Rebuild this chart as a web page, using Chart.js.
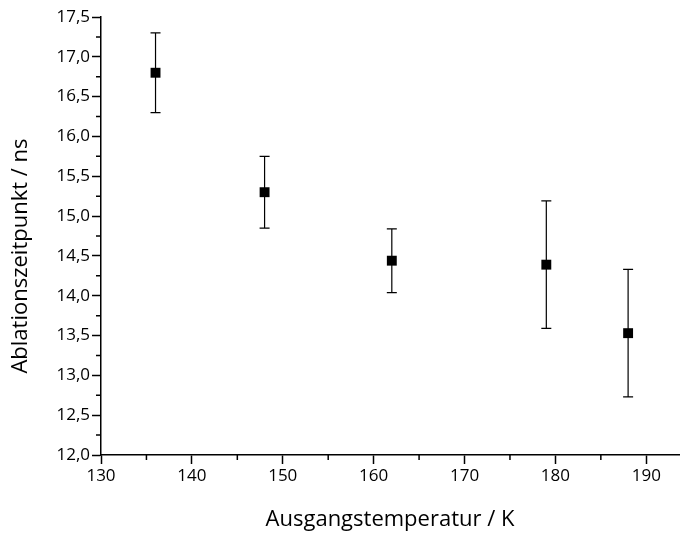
<!DOCTYPE html>
<html>
<head>
<meta charset="utf-8">
<script src="https://cdn.jsdelivr.net/npm/chart.js@4"></script>
<style>
  html, body { margin: 0; padding: 0; background: #fff; }
  #wrap { width: 686px; height: 537px; }
</style>
</head>
<body>
<div id="wrap"><canvas id="chart" width="686" height="537"></canvas></div>
<script>
// Messwerte
const temperaturen = [136, 148, 162, 179, 188];
const zeitpunkte = [16.8, 15.3, 14.44, 14.39, 13.53];
const fehler = [0.5, 0.45, 0.4, 0.8, 0.8];

const FONT = '"Open Sans", sans-serif';

// Fehlerbalken unter die Punkte zeichnen
const errorBars = {
  id: 'errorBars',
  beforeDatasetsDraw(chart) {
    const { ctx, scales: { x, y } } = chart;
    ctx.save();
    ctx.strokeStyle = '#000';
    ctx.lineWidth = 1.2;
    temperaturen.forEach((t, i) => {
      const px = x.getPixelForValue(t);
      const top = y.getPixelForValue(zeitpunkte[i] + fehler[i]);
      const bot = y.getPixelForValue(zeitpunkte[i] - fehler[i]);
      ctx.beginPath();
      ctx.moveTo(px, top); ctx.lineTo(px, bot);
      ctx.moveTo(px - 5, top); ctx.lineTo(px + 5, top);
      ctx.moveTo(px - 5, bot); ctx.lineTo(px + 5, bot);
      ctx.stroke();
    });
    ctx.restore();
  }
};

// Kleine Zwischenstriche an den Achsen
const minorTicks = {
  id: 'minorTicks',
  afterDraw(chart) {
    const { ctx, scales: { x, y } } = chart;
    ctx.save();
    ctx.strokeStyle = '#000';
    ctx.lineWidth = 1.5;
    ctx.beginPath();
    for (let v = 135; v <= x.max; v += 10) {
      const px = x.getPixelForValue(v);
      ctx.moveTo(px, y.bottom); ctx.lineTo(px, y.bottom + 5);
    }
    for (let v = 12.25; v < 17.5; v += 0.5) {
      const py = y.getPixelForValue(v);
      ctx.moveTo(x.left, py); ctx.lineTo(x.left - 5, py);
    }
    ctx.stroke();
    ctx.restore();
  }
};

new Chart(document.getElementById('chart'), {
  type: 'scatter',
  data: {
    datasets: [{
      data: temperaturen.map((t, i) => ({ x: t, y: zeitpunkte[i] })),
      pointStyle: 'rect',
      pointRadius: 7,
      pointBackgroundColor: '#000',
      pointBorderColor: '#000',
      pointBorderWidth: 0
    }]
  },
  options: {
    responsive: false,
    animation: false,
    layout: { padding: { top: 17, right: 0, left: 4, bottom: 0 } },
    plugins: { legend: { display: false }, tooltip: { enabled: false } },
    scales: {
      x: {
        type: 'linear',
        min: 130,
        max: 193.6,
        afterFit: s => { s.height = 82; },
        border: { display: true, color: '#000', width: 1.5 },
        grid: { drawOnChartArea: false, drawTicks: true, tickLength: 9, tickColor: '#000', tickWidth: 1.5 },
        ticks: { stepSize: 10, includeBounds: false, color: '#000', font: { family: FONT, size: 17 }, padding: 2, maxRotation: 0 },
        title: { display: true, text: 'Ausgangstemperatur / K', color: '#000', font: { family: FONT, size: 22 }, padding: { top: 18 } }
      },
      y: {
        min: 12,
        max: 17.5,
        afterFit: s => { s.width = 97; },
        border: { display: true, color: '#000', width: 1.5 },
        grid: { drawOnChartArea: false, drawTicks: true, tickLength: 9, tickColor: '#000', tickWidth: 1.5 },
        ticks: {
          stepSize: 0.5,
          color: '#000',
          font: { family: FONT, size: 17 },
          padding: 2,
          callback: v => v.toFixed(1).replace('.', ',')
        },
        title: {
          display: true,
          text: 'Ablationszeitpunkt / ns' + '\u00A0'.repeat(7),
          color: '#000',
          font: { family: FONT, size: 22 },
          padding: { bottom: 8 }
        }
      }
    }
  },
  plugins: [errorBars, minorTicks]
});
</script>
</body>
</html>
